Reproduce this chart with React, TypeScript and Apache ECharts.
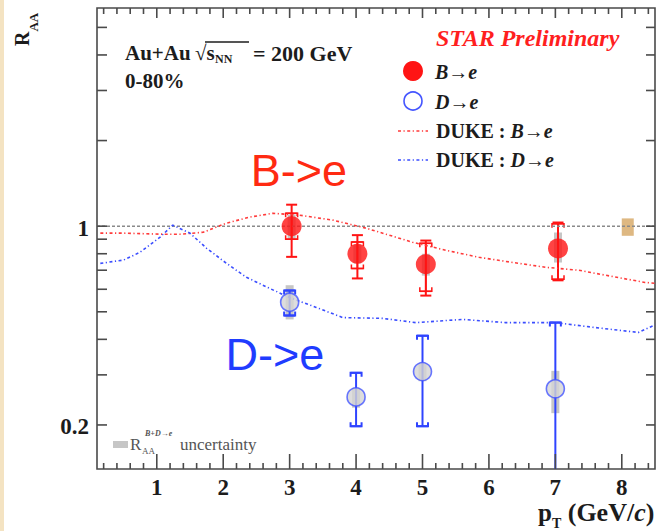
import React, { useEffect, useRef } from "react";
import * as echarts from "echarts";

// Axis ranges
const X_MIN = 0.1;
const X_MAX = 8.5;
const Y_MIN = 0.14;
const Y_MAX = 5.85;

// Axis ticks and labels
const xLabelValues = [1, 2, 3, 4, 5, 6, 7, 8];
const yTickValues = [0.2, 0.3, 0.4, 0.5, 0.6, 0.7, 0.8, 0.9, 1, 2, 3, 4, 5];
const yLabelValues = [0.2, 1];
const yLabelTexts = ["0.2", "1"];

// B -> e measurement
const pTB = [3.03, 4.02, 5.05, 7.04];
const raaB = [1.0, 0.8, 0.735, 0.835];
const statLoB = [0.78, 0.655, 0.57, 0.645];
const statHiB = [1.19, 0.93, 0.89, 1.03];
const sysLoB = [0.9, 0.71, 0.59, 0.65];
const sysHiB = [1.11, 0.88, 0.87, 1.02];
const uncLoB = [0.9, 0.74, 0.67, 0.745];
const uncHiB = [1.1, 0.86, 0.8, 0.95];

// D -> e measurement
const pTD = [3, 4, 5, 7];
const raaD = [0.54, 0.251, 0.308, 0.268];
const statLoD = [0.485, 0.198, 0.198, 0.05];
const statHiD = [0.594, 0.305, 0.412, 0.458];
const uncLoD = [0.47, 0.23, 0.285, 0.22];
const uncHiD = [0.62, 0.27, 0.33, 0.31];

// DUKE model curves
const dukeBx = [0.15, 0.5, 1.1, 1.35, 1.7, 2.05, 2.4, 2.75, 3.15, 3.65, 4.15, 4.65, 4.85, 5.35, 5.85, 6.35, 6.85, 7.35, 7.85, 8.35, 8.5];
const dukeBy = [0.945, 0.945, 0.937, 0.937, 0.952, 1.025, 1.076, 1.11, 1.093, 1.05, 0.984, 0.907, 0.878, 0.823, 0.777, 0.746, 0.717, 0.7, 0.666, 0.634, 0.63];
const dukeDx = [0.15, 0.5, 0.75, 1.05, 1.24, 1.5, 1.75, 2.05, 2.35, 2.7, 3.0, 3.4, 3.8, 4.4, 4.9, 5.6, 6.25, 7.0, 7.6, 8.25, 8.5];
const dukeDy = [0.74, 0.76, 0.81, 0.915, 1.008, 0.945, 0.836, 0.74, 0.661, 0.604, 0.561, 0.518, 0.477, 0.474, 0.458, 0.47, 0.458, 0.458, 0.44, 0.423, 0.45];

// Unity reference and global normalisation uncertainty
const unityX = [X_MIN, X_MAX];
const unityY = [1, 1];
const normX = [8.09];
const normLo = [0.925];
const normHi = [1.065];

const RED = "#ff1414";
const BLUE = "#2f44ff";
const SERIF = '"Liberation Serif", "Times New Roman", serif';
const SANS = '"Liberation Sans", Arial, sans-serif';
const INK = "#1c1c1c";
const FRAME = "#4a4a4a";
const MODEL_DASH = [3, 2.5, 1.2, 2.5];

// minor ticks every 0.2 between the labelled integers
const xMinorTicks: number[] = [];
for (let i = 1; i <= 42; i++) {
  const v = i / 5;
  if (v > X_MIN && v < X_MAX && Math.abs(v - Math.round(v)) > 1e-6) xMinorTicks.push(v);
}

// frame tick list: [x, y, kind]  kind 0 = y tick, 1 = major x tick, 2 = minor x tick
const frameTicks = [
  ...yTickValues.map((v) => [1, v, 0]),
  ...xLabelValues.map((v) => [v, 1, 1]),
  ...xMinorTicks.map((v) => [v, 1, 2]),
];

const zip3 = (a: number[], b: number[], c: number[]) => a.map((v, i) => [v, b[i], c[i]]);
const zip2 = (a: number[], b: number[]) => a.map((v, i) => [v, b[i]]);

function errorBars(color: string, capW: number, hook: number, lw: number) {
  return (params: any, api: any) => {
    const x = api.value(0);
    const lo = api.coord([x, api.value(1)]);
    const hi = api.coord([x, api.value(2)]);
    const s = { stroke: color, lineWidth: lw };
    const h = capW / 2;
    const children: any[] = [
      { type: "line", shape: { x1: lo[0], y1: lo[1], x2: hi[0], y2: hi[1] }, style: s },
      { type: "line", shape: { x1: hi[0] - h, y1: hi[1], x2: hi[0] + h, y2: hi[1] }, style: s },
      { type: "line", shape: { x1: lo[0] - h, y1: lo[1], x2: lo[0] + h, y2: lo[1] }, style: s },
    ];
    if (hook > 0) {
      children.push(
        { type: "polyline", shape: { points: [[hi[0] - h, hi[1] + hook], [hi[0] - h, hi[1]], [hi[0] + h, hi[1]], [hi[0] + h, hi[1] + hook]] }, style: { ...s, fill: "none" } },
        { type: "polyline", shape: { points: [[lo[0] - h, lo[1] - hook], [lo[0] - h, lo[1]], [lo[0] + h, lo[1]], [lo[0] + h, lo[1] - hook]] }, style: { ...s, fill: "none" } }
      );
    }
    return { type: "group", children };
  };
}

function bandRect(color: string, w: number) {
  return (params: any, api: any) => {
    const x = api.value(0);
    const lo = api.coord([x, api.value(1)]);
    const hi = api.coord([x, api.value(2)]);
    return {
      type: "rect",
      shape: { x: lo[0] - w / 2, y: hi[1], width: w, height: lo[1] - hi[1] },
      style: { fill: color },
    };
  };
}

// ticks on all four sides of the frame, pointing inwards, plus the y labels
function renderFrameTick(params: any, api: any) {
  const kind = api.value(2);
  const cs = params.coordSys;
  const s = { stroke: FRAME, lineWidth: 1.6 };
  const xl = cs.x;
  const xr = cs.x + cs.width;
  const yt = cs.y;
  const yb = cs.y + cs.height;
  if (kind === 0) {
    const v = api.value(1);
    const y = api.coord([1, v])[1];
    const children: any[] = [
      { type: "line", shape: { x1: xl, y1: y, x2: xl + 10, y2: y }, style: s },
      { type: "line", shape: { x1: xr - 9, y1: y, x2: xr, y2: y }, style: s },
    ];
    const idx = yLabelValues.indexOf(v);
    if (idx >= 0) {
      children.push({
        type: "text",
        x: xl - 8,
        y: y + 2,
        style: {
          text: yLabelTexts[idx],
          fill: INK,
          fontSize: 23,
          fontWeight: "bold",
          fontFamily: SERIF,
          align: "right",
          verticalAlign: "middle",
        },
      });
    }
    return { type: "group", children };
  }
  const x = api.coord([api.value(0), 1])[0];
  const lb = kind === 1 ? 15 : 6;
  const lt = kind === 1 ? 10 : 6;
  return {
    type: "group",
    children: [
      { type: "line", shape: { x1: x, y1: yb, x2: x, y2: yb - lb }, style: s },
      { type: "line", shape: { x1: x, y1: yt, x2: x, y2: yt + lt }, style: s },
    ],
  };
}

function txt(x: number, y: number, text: string, size: number, opts: any = {}) {
  return {
    type: "text",
    x,
    y,
    style: {
      text,
      fill: opts.fill || INK,
      fontSize: size,
      fontFamily: opts.family || SERIF,
      fontWeight: opts.weight || "bold",
      fontStyle: opts.style || "normal",
      align: opts.align || "left",
      textAlign: opts.align || "left",
      verticalAlign: "middle",
      textVerticalAlign: "middle",
    },
  };
}

function richTxt(x: number, y: number, text: string, rich: any) {
  return {
    type: "text",
    x,
    y,
    style: {
      text,
      align: "left",
      textAlign: "left",
      verticalAlign: "middle",
      textVerticalAlign: "middle",
      rich,
    },
  };
}

const tok = (size: number, extra: any = {}) => ({ fontSize: size, fontWeight: "bold", fontFamily: SERIF, color: INK, fill: INK, ...extra });

const option: any = {
  animation: false,
  backgroundColor: "#ffffff",
  grid: { left: 97, right: 3, top: 8, bottom: 62, show: true, borderColor: FRAME, borderWidth: 1.6, backgroundColor: "transparent" },
  xAxis: {
    type: "value",
    min: X_MIN,
    max: X_MAX,
    axisLine: { show: false },
    splitLine: { show: false },
    axisTick: { show: false },
    axisLabel: {
      show: true,
      customValues: xLabelValues,
      margin: 7,
      color: INK,
      fontSize: 23,
      fontWeight: "bold",
      fontFamily: SERIF,
      formatter: (v: number) => String(v),
    },
  },
  yAxis: {
    type: "log",
    logBase: 10,
    min: Y_MIN,
    max: Y_MAX,
    // the hidden axis is shifted left so that its name sits beside the frame's top-left corner
    offset: 71,
    name: "{r|R}{s|AA}",
    nameLocation: "end",
    nameRotate: 90,
    nameGap: -38,
    nameTextStyle: {
      rich: {
        r: tok(20, { verticalAlign: "top" }),
        s: tok(13, { verticalAlign: "top", padding: [15, 0, 0, 0] }),
      },
    },
    axisLine: { show: false },
    axisTick: { show: false },
    axisLabel: { show: false },
    splitLine: { show: false },
  },
  series: [
    {
      type: "custom",
      name: "frame ticks",
      data: frameTicks,
      renderItem: renderFrameTick,
      silent: true,
      z: 5,
    },
    {
      type: "line",
      name: "unity",
      data: zip2(unityX, unityY),
      symbol: "none",
      lineStyle: { color: "#8a8a8a", width: 1.5, type: [3, 2] },
    },
    {
      type: "custom",
      name: "norm",
      data: zip3(normX, normLo, normHi),
      renderItem: bandRect("#deb882", 12),
    },
    {
      type: "line",
      name: "DUKE B",
      data: zip2(dukeBx, dukeBy),
      symbol: "none",
      lineStyle: { color: "#ff3a3a", width: 1.6, type: MODEL_DASH },
    },
    {
      type: "line",
      name: "DUKE D",
      data: zip2(dukeDx, dukeDy),
      symbol: "none",
      lineStyle: { color: "#3a4dff", width: 1.6, type: MODEL_DASH },
    },
    {
      type: "custom",
      name: "unc B",
      data: zip3(pTB, uncLoB, uncHiB),
      renderItem: bandRect("#c6c6c6", 8),
    },
    {
      type: "custom",
      name: "unc D",
      data: zip3(pTD, uncLoD, uncHiD),
      renderItem: bandRect("#c6c6c6", 8),
    },
    {
      type: "custom",
      name: "stat B",
      data: zip3(pTB, statLoB, statHiB),
      renderItem: errorBars(RED, 11, 0, 2),
      clip: true,
    },
    {
      type: "custom",
      name: "sys B",
      data: zip3(pTB, sysLoB, sysHiB),
      renderItem: errorBars(RED, 12, 4, 1.5),
      clip: true,
    },
    {
      type: "custom",
      name: "stat D",
      data: zip3(pTD, statLoD, statHiD),
      renderItem: errorBars(BLUE, 11, 4, 2),
      clip: true,
    },
    {
      type: "scatter",
      name: "B→e",
      data: zip2(pTB, raaB),
      symbol: "circle",
      symbolSize: 20,
      itemStyle: { color: RED },
      z: 4,
    },
    {
      type: "scatter",
      name: "D→e",
      data: zip2(pTD, raaD),
      symbol: "circle",
      symbolSize: 18,
      itemStyle: { color: "#d4d4d4", borderColor: "#4455ff", borderWidth: 1.6 },
      z: 4,
    },
  ],
  graphic: [
    { type: "rect", shape: { x: 0, y: 0, width: 4, height: 531 }, style: { fill: "#f4e3c2" } },
    // x-axis title
    richTxt(538, 515, "{p|p}{t|T}{n| (GeV/}{i|c}{n|)}", {
      p: tok(25, { verticalAlign: "top" }),
      t: tok(14, { verticalAlign: "top", padding: [17, 0, 0, 0] }),
      n: tok(26, { verticalAlign: "top" }),
      i: tok(26, { verticalAlign: "top", fontStyle: "italic" }),
    }),
    // collision system
    txt(125, 53, "Au+Au", 21),
    txt(195, 53, "√s", 21),
    { type: "line", shape: { x1: 205, y1: 42, x2: 249, y2: 42 }, style: { stroke: INK, lineWidth: 1.3 } },
    txt(215, 59, "NN", 12),
    txt(253, 53, "= 200 GeV", 22),
    txt(125, 81, "0-80%", 21),
    // preliminary tag
    txt(436, 38, "STAR Preliminary", 24, { style: "italic", fill: "#ff1f1f" }),
    // legend
    { type: "circle", shape: { cx: 413, cy: 71, r: 10 }, style: { fill: RED } },
    txt(435, 72, "B→e", 20, { style: "italic" }),
    { type: "circle", shape: { cx: 413, cy: 101, r: 9 }, style: { fill: "#ffffff", stroke: "#4455ff", lineWidth: 1.6 } },
    txt(435, 102, "D→e", 20, { style: "italic" }),
    { type: "line", shape: { x1: 398, y1: 131, x2: 428, y2: 131 }, style: { stroke: "#ff3a3a", lineWidth: 1.6, lineDash: MODEL_DASH } },
    richTxt(436, 131, "{n|DUKE : }{i|B→e}", { n: tok(20), i: tok(20, { fontStyle: "italic" }) }),
    { type: "line", shape: { x1: 398, y1: 160, x2: 428, y2: 160 }, style: { stroke: "#3a4dff", lineWidth: 1.6, lineDash: MODEL_DASH } },
    richTxt(436, 160, "{n|DUKE : }{i|D→e}", { n: tok(20), i: tok(20, { fontStyle: "italic" }) }),
    // channel annotations
    txt(299, 170, "B->e", 45, { family: SANS, weight: "normal", fill: "#ff2a12", align: "center" }),
    txt(275, 354, "D->e", 45, { family: SANS, weight: "normal", fill: "#1f3cff", align: "center" }),
    // uncertainty key
    { type: "rect", shape: { x: 113, y: 441, width: 15, height: 7 }, style: { fill: "#c6c6c6" } },
    txt(130, 444, "R", 17, { weight: "normal", fill: "#555" }),
    txt(142, 451, "AA", 9, { weight: "normal", fill: "#555" }),
    txt(145, 433, "B+D→e", 8, { style: "italic", fill: "#555" }),
    txt(180, 444, "uncertainty", 17, { weight: "normal", fill: "#555" }),
  ],
};

export default function App() {
  const ref = useRef<HTMLDivElement>(null);
  useEffect(() => {
    document.body.style.margin = "0";
    const chart = echarts.init(ref.current!, null, { renderer: "svg" });
    chart.setOption(option);
    return () => chart.dispose();
  }, []);
  return <div ref={ref} style={{ width: 658, height: 531, background: "#ffffff" }} />;
}
